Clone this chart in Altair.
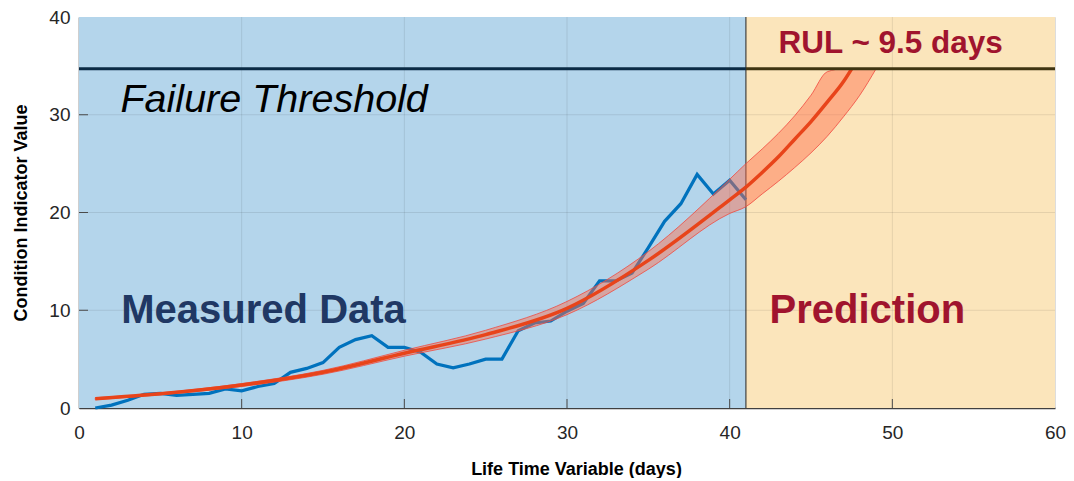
import altair as alt
import pandas as pd

# ---- data ----
days = list(range(1, 42))
measured = [0.0, 0.3, 0.8, 1.4, 1.5, 1.3, 1.4, 1.5, 1.95, 1.75,
            2.2, 2.5, 3.65, 4.05, 4.65, 6.2, 7.0, 7.4, 6.2, 6.2,
            5.7, 4.5, 4.1, 4.5, 5.0, 5.0, 7.9, 8.7, 8.9, 9.9,
            10.7, 13.0, 13.0, 13.8, 16.4, 19.1, 20.9, 23.9, 21.9, 23.3, 21.3]

fit_days = [1, 5, 10, 15, 20, 25, 30, 35, 40, 41, 42, 43, 44, 45, 46, 47, 47.5]
fit_values = [0.95, 1.45, 2.35, 3.65, 5.6, 7.5, 10.2, 15.1, 21.3, 22.6,
              24.1, 25.7, 27.5, 29.3, 31.3, 33.4, 34.7]

band_days = [1, 5, 10, 15, 20, 25, 30, 35, 40, 41, 42, 43, 44, 45, 46, 47, 48, 49]
band_low = [0.85, 1.35, 2.2, 3.45, 5.3, 7.05, 9.55, 14.2, 19.9, 20.6,
            21.9, 23.2, 24.6, 26.1, 27.8, 29.8, 32.0, 34.7]
band_high = [1.05, 1.55, 2.5, 3.85, 5.9, 7.95, 10.9, 16.0, 23.4, 25.0,
             26.5, 28.1, 29.9, 32.0, 34.4, 34.7, 34.7, 34.7]

threshold = 34.7
split_day = 41
region_start = [0, 41]
region_end = [41, 60]
region_color = ["#b4d5eb", "#fbe5bb"]
threshold_color = ["#0b2b45", "#3f3512"]

x_ticks = [0, 10, 20, 30, 40, 50, 60]
y_ticks = [0, 10, 20, 30, 40]

label_text = ["Failure Threshold", "Measured Data", "Prediction", "RUL ~ 9.5 days"]
label_x = [2.55, 2.6, 42.45, 43.0]
label_y = [30.3, 8.7, 8.7, 36.3]

W, H = 976, 391
FONT = "Liberation Sans, Arial, Helvetica, sans-serif"

xs = alt.Scale(domain=[0, 60], nice=False, zero=False)
ys = alt.Scale(domain=[0, 40], nice=False, zero=False)

x_axis = alt.Axis(values=x_ticks, title="Life Time Variable (days)", grid=False, ticks=False,
                  labelFontSize=19, labelFont=FONT, labelColor="#262626", labelPadding=15,
                  labelFlush=False, labelOverlap=False,
                  domainColor="#404040", domainWidth=1.5,
                  titleFont=FONT, titleFontSize=18, titleFontWeight="bold", titleColor="#000000",
                  titleX=497, titleY=66, titleBaseline="alphabetic", titleAnchor="middle")
y_axis = alt.Axis(values=y_ticks, title="Condition Indicator Value", grid=False, ticks=False,
                  labelFontSize=19, labelFont=FONT, labelColor="#262626", labelPadding=9,
                  labelFlush=False, labelOverlap=False,
                  domainColor="#404040", domainWidth=1.5,
                  titleFont=FONT, titleFontSize=18, titleFontWeight="bold", titleColor="#000000",
                  titleX=-58, titleY=H / 2, titleAngle=270, titleBaseline="middle", titleAlign="center")

regions_df = pd.DataFrame({"x0": region_start, "x1": region_end, "c": region_color,
                           "tc": threshold_color, "thr": [threshold, threshold]})

regions = alt.Chart(regions_df).mark_rect().encode(
    x=alt.X("x0:Q", scale=xs, axis=x_axis),
    x2="x1:Q",
    y=alt.Y("y0:Q", scale=ys, axis=y_axis),
    y2="y1:Q",
    color=alt.Color("c:N", scale=None),
).transform_calculate(y0="0", y1="40")

xgrid = alt.Chart(pd.DataFrame({"v": x_ticks[1:-1]})).mark_rule(
    color="#000000", opacity=0.09, strokeWidth=1).encode(
    x=alt.X("v:Q", scale=xs, axis=x_axis))
ygrid = alt.Chart(pd.DataFrame({"v": y_ticks[1:-1]})).mark_rule(
    color="#000000", opacity=0.09, strokeWidth=1).encode(
    y=alt.Y("v:Q", scale=ys, axis=y_axis))

xtick = alt.Chart(pd.DataFrame({"v": x_ticks[1:-1]})).mark_rule(
    color="#4a4a4a", strokeWidth=1).encode(
    x=alt.X("v:Q", scale=xs, axis=x_axis), y=alt.value(H), y2=alt.value(H - 9))
ytick = alt.Chart(pd.DataFrame({"v": y_ticks[1:-1]})).mark_rule(
    color="#4a4a4a", strokeWidth=1).encode(
    y=alt.Y("v:Q", scale=ys, axis=y_axis), x=alt.value(0), x2=alt.value(9))

split = alt.Chart(pd.DataFrame({"v": [split_day]})).mark_rule(
    color="#222222", strokeWidth=1).encode(x=alt.X("v:Q", scale=xs, axis=x_axis))

measured_line = alt.Chart(pd.DataFrame({"day": days, "ci": measured})).mark_line(
    color="#0072bd", strokeWidth=3.2, strokeJoin="miter").encode(
    x=alt.X("day:Q", scale=xs, axis=x_axis),
    y=alt.Y("ci:Q", scale=ys, axis=y_axis))

band = alt.Chart(pd.DataFrame({"day": band_days, "lo": band_low, "hi": band_high})).mark_area(
    interpolate="monotone", fill="#ff6a4a", fillOpacity=0.45,
    stroke="#f04a40", strokeWidth=1, strokeOpacity=0.8).encode(
    x=alt.X("day:Q", scale=xs, axis=x_axis),
    y=alt.Y("lo:Q", scale=ys, axis=y_axis),
    y2="hi:Q")

fit_line = alt.Chart(pd.DataFrame({"day": fit_days, "ci": fit_values})).mark_line(
    interpolate="monotone", color="#e8441a", strokeWidth=3.5).encode(
    x=alt.X("day:Q", scale=xs, axis=x_axis),
    y=alt.Y("ci:Q", scale=ys, axis=y_axis))

thr_line = alt.Chart(regions_df).mark_rule(strokeWidth=3).encode(
    x=alt.X("x0:Q", scale=xs, axis=x_axis), x2="x1:Q",
    y=alt.Y("thr:Q", scale=ys, axis=y_axis),
    color=alt.Color("tc:N", scale=None))

lab_df = pd.DataFrame({"t": label_text, "x": label_x, "y": label_y})

def text_layer(i, size, weight, style, color):
    return alt.Chart(lab_df.iloc[[i]]).mark_text(
        align="left", baseline="alphabetic", font=FONT, fontSize=size,
        fontWeight=weight, fontStyle=style, color=color).encode(
        x=alt.X("x:Q", scale=xs, axis=x_axis),
        y=alt.Y("y:Q", scale=ys, axis=y_axis),
        text="t:N")

t1 = text_layer(0, 39.5, "normal", "italic", "#000000")
t2 = text_layer(1, 40, "bold", "normal", "#203864")
t3 = text_layer(2, 40, "bold", "normal", "#a0142e")
t4 = text_layer(3, 31.5, "bold", "normal", "#a0142e")

chart = alt.layer(
    regions, xgrid, ygrid, xtick, ytick, split,
    measured_line, band, fit_line, thr_line,
    t1, t2, t3, t4,
).properties(
    width=W, height=H,
    padding={"left": 71, "top": 9, "right": 11, "bottom": 70},
    autosize=alt.AutoSizeParams(type="none"),
).configure_view(
    stroke="#a0a0a0", strokeWidth=1
).configure(background="#ffffff")

chart.save("out.html", embed_options={"renderer": "svg", "actions": False})
